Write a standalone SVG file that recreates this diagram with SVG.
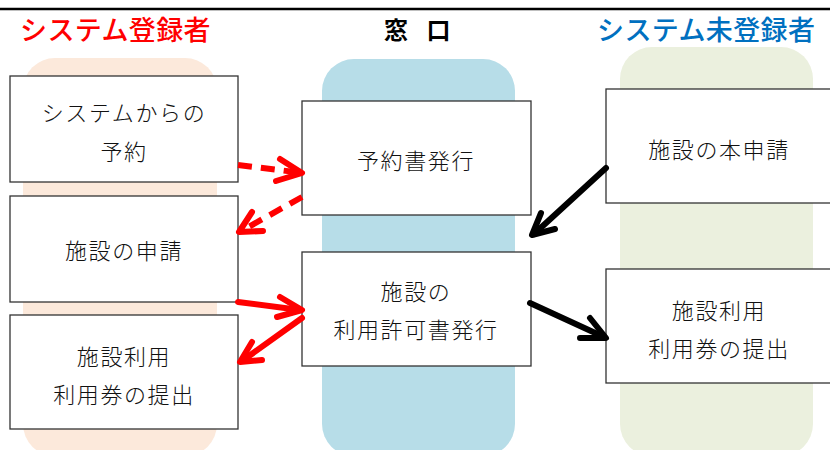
<svg xmlns="http://www.w3.org/2000/svg" width="830" height="450" viewBox="0 0 830 450">
<style>
.t{font-family:"Noto Sans CJK JP","Noto Sans CJK SC",sans-serif;font-size:22px;font-weight:300;letter-spacing:1.6px;fill:#111;text-anchor:middle;dominant-baseline:central}
.h{font-family:"Noto Sans CJK JP","Noto Sans CJK SC",sans-serif;font-size:27px;font-weight:500;dominant-baseline:central}
.box{fill:#fff;stroke:#333;stroke-width:1.3}
.red{stroke:#ff0000;stroke-width:6;fill:none;stroke-linecap:round;stroke-linejoin:round}
.blk{stroke:#000;stroke-width:6;fill:none;stroke-linecap:round;stroke-linejoin:round}
.dash{stroke-dasharray:14 9;stroke-linecap:butt}
</style>
<rect width="830" height="450" fill="#fff"/>
<line x1="0" y1="9" x2="830" y2="9" stroke="#000" stroke-width="2.5"/>
<g id="lanes">
<rect x="23" y="58" width="194" height="398" rx="32" fill="#fce9db"/>
<rect x="322" y="59" width="193" height="397" rx="32" fill="#b7dde8"/>
<rect x="620" y="47" width="193" height="409" rx="32" fill="#ebf0de"/>
</g>
<g id="titles">
<text class="h" x="20" y="28" fill="#ff0000" style="letter-spacing:0.4px">システム登録者</text>
<text class="h" x="384" y="28" fill="#000" style="font-size:24px;font-weight:700;word-spacing:13px">窓 口</text>
<text class="h" x="597" y="28" fill="#0070c0" style="letter-spacing:0.4px">システム未登録者</text>
</g>
<g id="n1"><rect class="box" x="10" y="76" width="228" height="106"/>
<text class="t" x="124" y="111">システムからの</text><text class="t" x="124" y="150">予約</text></g>
<g id="n2"><rect class="box" x="10" y="196" width="228" height="106"/>
<text class="t" x="124" y="249">施設の申請</text></g>
<g id="n3"><rect class="box" x="10" y="315" width="228" height="114"/>
<text class="t" x="124" y="355">施設利用</text><text class="t" x="124" y="393">利用券の提出</text></g>
<g id="n4"><rect class="box" x="302" y="101" width="229" height="114"/>
<text class="t" x="416" y="159">予約書発行</text></g>
<g id="n5"><rect class="box" x="302" y="252" width="229" height="114"/>
<text class="t" x="416" y="290">施設の</text><text class="t" x="416" y="328">利用許可書発行</text></g>
<g id="n6"><rect class="box" x="606" y="89" width="240" height="114"/>
<text class="t" x="719" y="148">施設の本申請</text></g>
<g id="n7"><rect class="box" x="606" y="269" width="240" height="114"/>
<text class="t" x="719" y="309">施設利用</text><text class="t" x="719" y="347">利用券の提出</text></g>
<g id="connectors">
<line class="red dash" x1="238" y1="165" x2="299" y2="172.5"/>
<polyline class="red" points="280,159 302,173 276,181"/>
<line class="red dash" x1="302" y1="197" x2="243" y2="230"/>
<polyline class="red" points="252,212 239,232 263,231"/>
<line class="red" x1="238" y1="302" x2="300" y2="310"/>
<polyline class="red" points="280,297 302,310 277,317"/>
<line class="red" x1="302" y1="318" x2="242" y2="361"/>
<polyline class="red" points="252,342 240,362 262,360"/>
<line class="blk" x1="606" y1="168" x2="534" y2="234"/>
<polyline class="blk" points="541,213 532,235 555,229"/>
<line class="blk" x1="530" y1="303" x2="604" y2="337"/>
<polyline class="blk" points="590,318 606,338 580,338"/>
</g>
</svg>
